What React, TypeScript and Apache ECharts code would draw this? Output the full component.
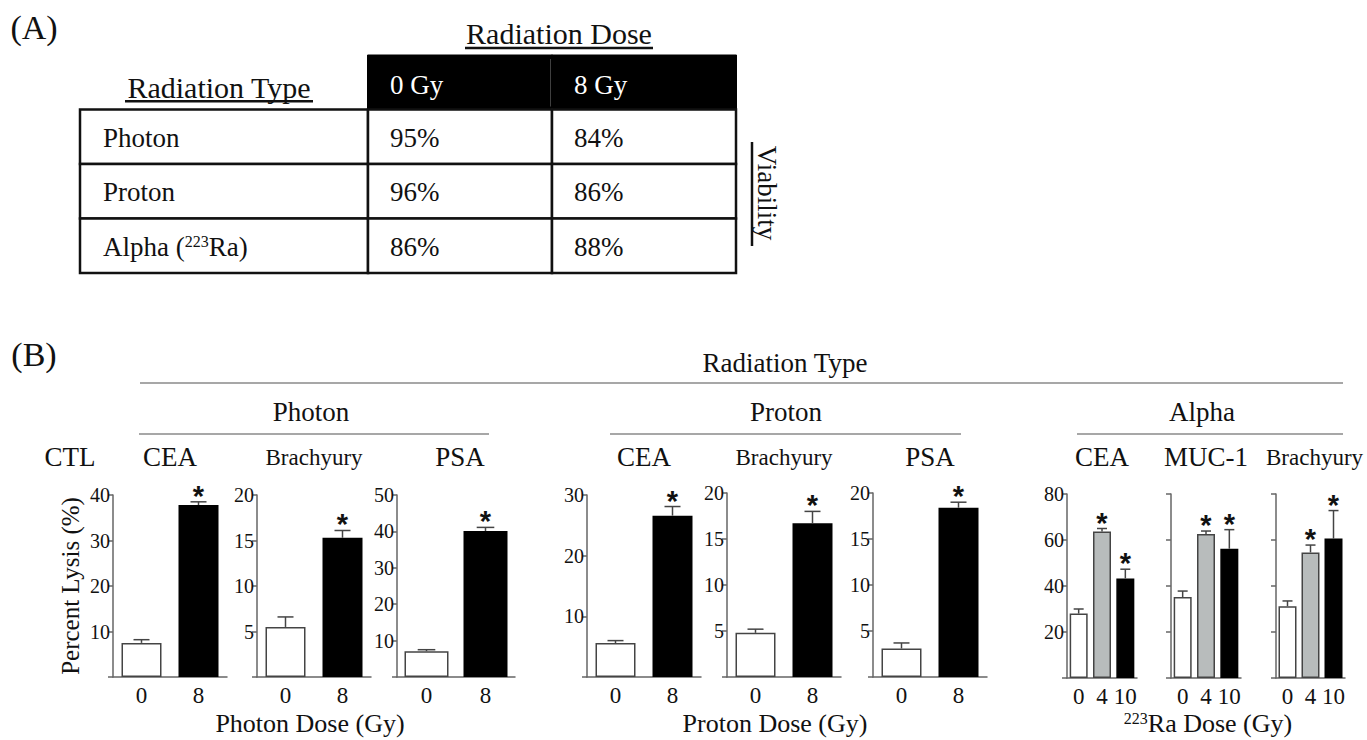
import React, { useEffect, useRef } from 'react';
import * as echarts from 'echarts';

const SERIF = '"Liberation Serif", "Times New Roman", serif';
const SANS = '"Liberation Sans", Arial, sans-serif';

// ---------- Panel A data ----------
const tableDoses = ['0 Gy', '8 Gy'];
const tableRowKeys = ['header', 'Photon', 'Proton', 'Alpha'];
const radiationTypeLabels = ['Photon', 'Proton', 'Alpha ({sup|223}Ra)'];
const viability0Gy = [95, 96, 86];
const viability8Gy = [84, 86, 88];

// ---------- Panel B data ----------
const twoDoses = ['0', '8'];
const alphaDoses = ['0', '4', '10'];

const photonCEA = [7.5, 37.8];
const photonCEAErr = [0.7, 0.7];
const photonBrachyury = [5.5, 15.3];
const photonBrachyuryErr = [1.1, 0.8];
const photonPSA = [7.1, 40.1];
const photonPSAErr = [0.4, 1.0];

const protonCEA = [5.6, 26.6];
const protonCEAErr = [0.4, 1.5];
const protonBrachyury = [4.8, 16.7];
const protonBrachyuryErr = [0.4, 1.3];
const protonPSA = [3.1, 18.4];
const protonPSAErr = [0.6, 0.6];

const alphaCEA = [28.0, 63.7, 43.3];
const alphaCEAErr = [2.0, 1.3, 4.0];
const alphaMUC1 = [35.2, 62.6, 56.2];
const alphaMUC1Err = [2.6, 1.3, 8.3];
const alphaBrachyury = [31.2, 54.6, 60.6];
const alphaBrachyuryErr = [2.3, 3.2, 12.2];

const twoDoseSig = [false, true];
const alphaSig = [false, true, true];

const antigens = ['CEA', 'Brachyury', 'PSA', 'CEA', 'Brachyury', 'PSA', 'CEA', 'MUC-1', 'Brachyury'];
const panelDoses = [twoDoses, twoDoses, twoDoses, twoDoses, twoDoses, twoDoses, alphaDoses, alphaDoses, alphaDoses];
const panelValues = [photonCEA, photonBrachyury, photonPSA, protonCEA, protonBrachyury, protonPSA, alphaCEA, alphaMUC1, alphaBrachyury];
const panelErrors = [photonCEAErr, photonBrachyuryErr, photonPSAErr, protonCEAErr, protonBrachyuryErr, protonPSAErr, alphaCEAErr, alphaMUC1Err, alphaBrachyuryErr];
const panelSig = [twoDoseSig, twoDoseSig, twoDoseSig, twoDoseSig, twoDoseSig, twoDoseSig, alphaSig, alphaSig, alphaSig];
const yMax = [40, 20, 50, 30, 20, 20, 80, 80, 80];
const yInterval = [10, 5, 10, 10, 5, 5, 20, 20, 20];

// ---------- layout (styling only) ----------
const panelLeft = [113, 257, 397, 587, 727, 873, 1067, 1171, 1276];
const panelWidth = [114, 114, 118, 114, 114, 114, 70, 70, 69];
const panelTop = [495, 495, 495, 495, 493, 493, 494, 494, 494];
const panelHeight = [182, 182, 182, 182, 184, 184, 184, 184, 184];
const panelBarWidth = [40, 40, 44, 40, 40, 40, 18, 18, 18];
const panelShowYLabels = [true, true, true, true, true, true, true, false, false];

const doseFill: Record<string, string> = { '0': '#ffffff', '4': '#b8bcbc', '8': '#000000', '10': '#000000' };
const doseBorder: Record<string, string> = { '0': '#444444', '4': '#444444', '8': '#000000', '10': '#000000' };

const AXIS = '#666666';
const HEAD_LINE = '#8a8a8a';

function txt(text: string, x: number, y: number, size: number, extra: any = {}) {
  return {
    type: 'text',
    x,
    y,
    style: {
      text,
      fontFamily: SERIF,
      fontSize: size,
      fill: '#111',
      align: 'center',
      verticalAlign: 'middle',
      ...extra,
    },
  };
}

function hline(x1: number, x2: number, y: number, color = HEAD_LINE, w = 1.5) {
  return { type: 'line', shape: { x1, y1: y, x2, y2: y }, style: { stroke: color, lineWidth: w } };
}

function buildOption() {
  const grids: any[] = [
    { left: 80, top: 55, width: 288, height: 218 },
    { left: 368, top: 55, width: 368, height: 218 },
  ];
  const xAxes: any[] = [
    { gridIndex: 0, type: 'category', data: ['Radiation Type'], show: false },
    { gridIndex: 1, type: 'category', data: tableDoses, show: false },
  ];
  const yAxes: any[] = [
    { gridIndex: 0, type: 'category', data: tableRowKeys, inverse: true, show: false },
    { gridIndex: 1, type: 'category', data: tableRowKeys, inverse: true, show: false },
  ];
  const series: any[] = [];

  // table: label column
  series.push({
    type: 'custom',
    xAxisIndex: 0,
    yAxisIndex: 0,
    silent: true,
    data: tableRowKeys.map((_, r) => [0, r]),
    renderItem: (params: any, api: any) => {
      const r = api.value(1);
      const c = api.coord([0, r]);
      const s = api.size([1, 1]);
      const x0 = c[0] - s[0] / 2;
      const y0 = c[1] - s[1] / 2;
      if (r === 0) {
        return {
          type: 'group',
          children: [
            {
              type: 'text',
              x: c[0] - 5,
              y: c[1] + 5,
              style: { text: 'Radiation Type', fontFamily: SERIF, fontSize: 30, fill: '#111', align: 'center', verticalAlign: 'middle' },
            },
            { type: 'line', shape: { x1: c[0] - 99, y1: c[1] + 19, x2: c[0] + 89, y2: c[1] + 19 }, style: { stroke: '#111', lineWidth: 2.5 } },
          ],
        };
      }
      return {
        type: 'group',
        children: [
          { type: 'rect', shape: { x: x0, y: y0, width: s[0], height: s[1] }, style: { fill: '#fff', stroke: '#111', lineWidth: 2.5 } },
          {
            type: 'text',
            x: x0 + 23,
            y: c[1] + 1,
            style: {
              text: radiationTypeLabels[r - 1],
              fontFamily: SERIF,
              fontSize: 27,
              fill: '#111',
              align: 'left',
              verticalAlign: 'middle',
              rich: { sup: { fontFamily: SERIF, fontSize: 16, verticalAlign: 'top', fill: '#111' } },
            },
          },
        ],
      };
    },
  });

  // table: value columns
  const valueCells: number[][] = [];
  tableRowKeys.forEach((_, r) => tableDoses.forEach((__, c) => valueCells.push([c, r])));
  series.push({
    type: 'custom',
    xAxisIndex: 1,
    yAxisIndex: 1,
    silent: true,
    data: valueCells,
    renderItem: (params: any, api: any) => {
      const col = api.value(0);
      const r = api.value(1);
      const c = api.coord([col, r]);
      const s = api.size([1, 1]);
      const x0 = c[0] - s[0] / 2;
      const y0 = c[1] - s[1] / 2;
      if (r === 0) {
        const children: any[] = [
          { type: 'rect', shape: { x: x0 - 0.5, y: y0, width: s[0] + 1, height: s[1] }, style: { fill: '#000', stroke: '#000', lineWidth: 1 } },
          {
            type: 'text',
            x: x0 + 22,
            y: c[1] + 3,
            style: { text: tableDoses[col], fontFamily: SERIF, fontSize: 27, fill: '#fff', align: 'left', verticalAlign: 'middle' },
          },
        ];
        if (col === 0) {
          children.push({ type: 'line', shape: { x1: x0 + s[0], y1: y0 + 4, x2: x0 + s[0], y2: y0 + s[1] - 3 }, style: { stroke: '#fff', lineWidth: 2.5 } });
        }
        return { type: 'group', children };
      }
      const v = col === 0 ? viability0Gy[r - 1] : viability8Gy[r - 1];
      return {
        type: 'group',
        children: [
          { type: 'rect', shape: { x: x0, y: y0, width: s[0], height: s[1] }, style: { fill: '#fff', stroke: '#111', lineWidth: 2.5 } },
          {
            type: 'text',
            x: x0 + 22,
            y: c[1] + 1,
            style: { text: v + '%', fontFamily: SERIF, fontSize: 27, fill: '#111', align: 'left', verticalAlign: 'middle' },
          },
        ],
      };
    },
  });

  // panel B bar charts
  panelValues.forEach((values, k) => {
    const gi = k + 2;
    const doses = panelDoses[k];
    grids.push({ left: panelLeft[k], top: panelTop[k], width: panelWidth[k], height: panelHeight[k] });
    xAxes.push({
      gridIndex: gi,
      type: 'category',
      data: doses,
      axisLine: { lineStyle: { color: AXIS, width: 1.5 } },
      axisTick: { alignWithLabel: true, length: 5, lineStyle: { color: AXIS, width: 1.5 } },
      axisLabel: { fontFamily: SERIF, fontSize: 23, color: '#111', margin: 7, interval: 0 },
    });
    const y: any = {
      gridIndex: gi,
      type: 'value',
      min: 0,
      max: yMax[k],
      interval: yInterval[k],
      splitLine: { show: false },
      axisLine: { show: true, lineStyle: { color: AXIS, width: 1.5 } },
      axisTick: { show: true, length: 5, lineStyle: { color: AXIS, width: 1.5 } },
      axisLabel: {
        show: panelShowYLabels[k],
        fontFamily: SERIF,
        fontSize: 20,
        color: '#111',
        margin: 3,
        formatter: (v: number) => (v === 0 ? '' : String(v)),
      },
    };
    if (k === 0) {
      y.name = 'Percent Lysis (%)';
      y.nameLocation = 'middle';
      y.nameRotate = 90;
      y.nameGap = 30;
      y.nameTextStyle = { fontFamily: SERIF, fontSize: 25, color: '#111' };
    }
    yAxes.push(y);

    series.push({
      type: 'bar',
      xAxisIndex: gi,
      yAxisIndex: gi,
      barWidth: panelBarWidth[k],
      silent: true,
      data: values.map((v, i) => ({
        value: v,
        itemStyle: { color: doseFill[doses[i]], borderColor: doseBorder[doses[i]], borderWidth: 1.5 },
      })),
    });

    const bw = panelBarWidth[k];
    series.push({
      type: 'custom',
      xAxisIndex: gi,
      yAxisIndex: gi,
      silent: true,
      z: 5,
      data: values.map((v, i) => [i, v, panelErrors[k][i], panelSig[k][i] ? 1 : 0]),
      renderItem: (params: any, api: any) => {
        const i = api.value(0);
        const v = api.value(1);
        const e = api.value(2);
        const sig = api.value(3);
        const base = api.coord([i, v]);
        const top = api.coord([i, v + e]);
        const cap = Math.max(5, bw * 0.2);
        const children: any[] = [
          { type: 'line', shape: { x1: base[0], y1: base[1], x2: top[0], y2: top[1] }, style: { stroke: '#444', lineWidth: 1.5 } },
          { type: 'line', shape: { x1: top[0] - cap, y1: top[1], x2: top[0] + cap, y2: top[1] }, style: { stroke: '#444', lineWidth: 1.5 } },
        ];
        if (sig) {
          children.push({
            type: 'text',
            x: top[0],
            y: top[1] - 6,
            style: { text: '*', fontFamily: SANS, fontWeight: 'bold', fontSize: 29, fill: '#111', align: 'center', verticalAlign: 'middle' },
          });
        }
        return { type: 'group', children };
      },
    });
  });

  const graphic: any[] = [
    // Panel A
    txt('(A)', 34, 27, 34),
    txt('Radiation Dose', 559, 33, 30),
    hline(465, 653, 48, '#111', 2.5),
    {
      type: 'text',
      x: 767,
      y: 193,
      rotation: -Math.PI / 2,
      style: { text: 'Viability', fontFamily: SERIF, fontSize: 27, fill: '#111', align: 'center', verticalAlign: 'middle' },
    },
    { type: 'line', shape: { x1: 752, y1: 142, x2: 752, y2: 246 }, style: { stroke: '#111', lineWidth: 2.5 } },
    // Panel B headers
    txt('(B)', 34, 354, 34),
    txt('Radiation Type', 785, 363, 27),
    hline(140, 1343, 383),
    txt('Photon', 311, 412, 27),
    txt('Proton', 786, 412, 27),
    txt('Alpha', 1202, 412, 27),
    hline(139, 489, 434),
    hline(610, 961, 434),
    hline(1077, 1343, 434),
    txt('CTL', 70, 457, 27),
    txt('Photon Dose (Gy)', 310, 723, 26),
    txt('Proton Dose (Gy)', 775, 723, 26),
    {
      type: 'text',
      x: 1208,
      y: 723,
      style: {
        text: '{sup|223}Ra Dose (Gy)',
        fontFamily: SERIF,
        fontSize: 26,
        fill: '#111',
        align: 'center',
        verticalAlign: 'middle',
        rich: { sup: { fontFamily: SERIF, fontSize: 16, verticalAlign: 'top', fill: '#111' } },
      },
    },
  ];
  antigens.forEach((a, k) => {
    const cx = panelLeft[k] + panelWidth[k] / 2 + (k === 2 ? 4 : k === 8 ? 4 : 0);
    graphic.push(txt(a, cx, 457, a === 'Brachyury' ? 23 : 27));
  });

  return {
    animation: false,
    backgroundColor: '#ffffff',
    grid: grids,
    xAxis: xAxes,
    yAxis: yAxes,
    series,
    graphic,
  };
}

export default function App() {
  const ref = useRef<HTMLDivElement>(null);
  useEffect(() => {
    if (!ref.current) return;
    const chart = echarts.init(ref.current, undefined, { renderer: 'svg' });
    chart.setOption(buildOption() as any);
    return () => chart.dispose();
  }, []);
  return (
    <div
      ref={ref}
      style={{ position: 'absolute', left: 0, top: 0, width: 1367, height: 740, background: '#fff' }}
    />
  );
}
